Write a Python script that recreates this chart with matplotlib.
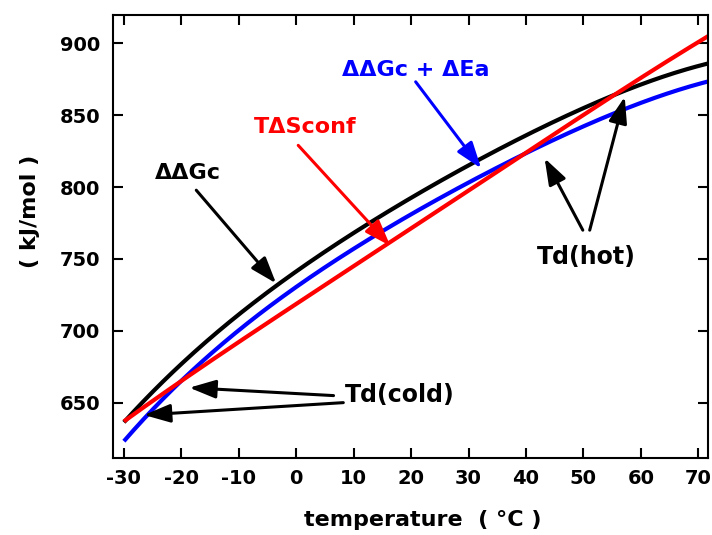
import matplotlib
matplotlib.use("Agg")
import matplotlib.pyplot as plt
import numpy as np

# Data (temperature in deg C, energies in kJ/mol)
temperature = [-30, -20, -10, 0, 10, 20, 30, 40, 50, 60, 70, 72]
ddgc = [635, 680, 711, 739, 767, 794, 816, 836, 855, 870, 884, 887]
ddgc_dea = [622, 668, 700, 728, 757, 782, 804, 823, 843, 857, 872, 874]
tdsconf = [637, 665, 692, 719, 745, 771, 797.5, 824, 850, 876, 901, 905.5]

x_ticks = [-30, -20, -10, 0, 10, 20, 30, 40, 50, 60, 70]
y_ticks = [650, 700, 750, 800, 850, 900]

plt.rcParams['font.family'] = ['DejaVu Sans']
plt.rcParams['font.weight'] = 'bold'
plt.rcParams['axes.unicode_minus'] = False

fig = plt.figure(figsize=(7.12, 5.35), dpi=100)
ax = fig.add_axes([0.1587, 0.1445, 0.8357, 0.8275])


def smooth(x, y):
    # gentle curve through the read points
    xs = np.linspace(x[0], x[-1], 300)
    coef = np.polyfit(x, y, 4)
    return xs, np.polyval(coef, xs)


for vals, col in [(ddgc, "black"), (ddgc_dea, "blue"), (tdsconf, "red")]:
    xs, ys = smooth(temperature, vals)
    ax.plot(xs, ys, color=col, lw=3.0, solid_capstyle="butt", clip_on=True)

ax.set_xlim(-31.9, 71.7)
ax.set_ylim(611.7, 919.7)
ax.set_xticks(x_ticks)
ax.set_yticks(y_ticks)
ax.tick_params(direction="in", length=7, width=1.5, top=True, right=True,
               labelsize=14)
ax.tick_params(axis="x", pad=8)
ax.tick_params(axis="y", pad=9)
for tl in ax.get_xticklabels() + ax.get_yticklabels():
    tl.set_fontweight("bold")
for sp in ax.spines.values():
    sp.set_linewidth(1.5)

ax.set_xlabel("temperature  ( °C )", fontsize=16, fontweight="bold", va="center")
ax.set_ylabel("( kJ/mol )", fontsize=16, fontweight="bold", va="center")
ax.xaxis.set_label_coords(0.52, -0.14)
ax.yaxis.set_label_coords(-0.14, 0.557)

head = "-|>,head_length=0.8,head_width=0.28"


def arrow(tail, tip, col):
    ax.annotate("", xy=tip, xytext=tail,
                arrowprops=dict(arrowstyle=head, color=col, lw=2.2,
                                mutation_scale=20, shrinkA=0, shrinkB=0))


ax.text(-18.9, 809.7, "ΔΔGc", color="black", fontsize=16,
        fontweight="bold", ha="center", va="center")
arrow((-17.4, 797.8), (-3.5, 733), "black")

ax.text(1.5, 841.7, "TΔSconf", color="red", fontsize=16,
        fontweight="bold", ha="center", va="center")
arrow((0.35, 829), (16.4, 759), "red")

ax.text(20.9, 881.3, "ΔΔGc + ΔEa", color="blue", fontsize=16,
        fontweight="bold", ha="center", va="center")
arrow((20.8, 873.2), (32.2, 813), "blue")

ax.text(50.5, 751.3, "Td(hot)", color="black", fontsize=17,
        fontweight="bold", ha="center", va="center")
arrow((49.9, 770), (43.25, 820), "black")
arrow((51.1, 770), (57.2, 862.8), "black")

ax.text(18.1, 655.4, "Td(cold)", color="black", fontsize=17,
        fontweight="bold", ha="center", va="center")
arrow((6.5, 654.9), (-18.6, 660.4), "black")
arrow((8.2, 650), (-26.5, 641.4), "black")

fig.savefig("out.png", dpi=100)
